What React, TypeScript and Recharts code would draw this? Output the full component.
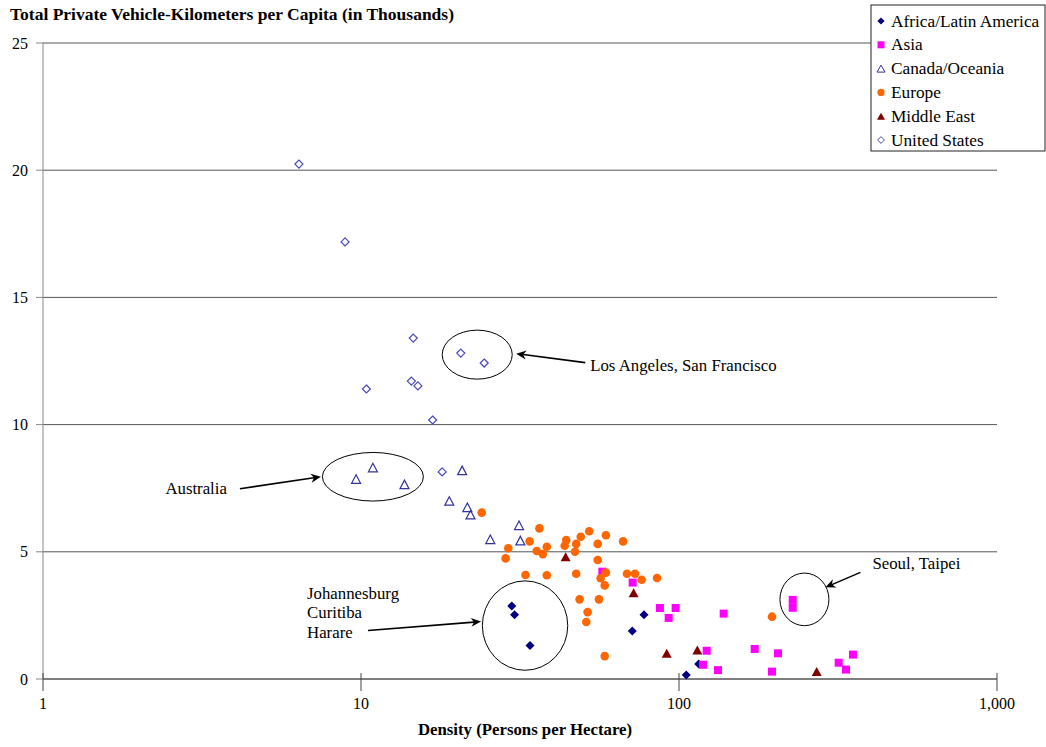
import React from 'react'
import { ScatterChart, Scatter, XAxis, YAxis, CartesianGrid, ReferenceDot } from 'recharts'

// values (x = persons per hectare, y = thousand km per capita)
const africaX = [29.8, 30.4, 34.0, 77.6, 71.3, 105.4, 115.3]
const africaY = [2.87, 2.53, 1.32, 2.53, 1.89, 0.16, 0.59]

const asiaX = [57.4, 71.5, 87.1, 97.6, 92.8, 138.2, 227.8, 227.8, 122.2, 119.0, 132.6, 173.0, 204.8, 196.1, 317.8, 335.0, 352.4]
const asiaY = [4.22, 3.79, 2.79, 2.79, 2.40, 2.57, 3.11, 2.80, 1.11, 0.56, 0.35, 1.18, 1.01, 0.29, 0.64, 0.37, 0.96]

const canadaX = [9.65, 10.9, 13.7, 20.8, 18.95, 21.6, 22.1, 31.4, 25.5, 31.7]
const canadaY = [7.86, 8.31, 7.65, 8.20, 7.0, 6.75, 6.46, 6.04, 5.49, 5.44]

const europeX = [23.97, 36.4, 33.9, 29.05, 28.5, 35.7, 37.3, 38.4, 44.2, 43.7, 47.5, 47.1, 49.1, 52.2, 58.9, 55.5, 66.7, 55.5, 32.9, 38.4, 47.5, 58.9, 56.7, 58.4, 68.6, 72.7, 76.3, 85.3, 48.7, 56.0, 51.6, 51.1, 58.4, 196.1]
const europeY = [6.54, 5.92, 5.41, 5.14, 4.74, 5.03, 4.91, 5.20, 5.46, 5.24, 5.31, 5.00, 5.59, 5.81, 5.65, 5.31, 5.41, 4.68, 4.09, 4.08, 4.14, 4.18, 3.96, 3.68, 4.14, 4.14, 3.90, 3.97, 3.13, 3.13, 2.63, 2.24, 0.90, 2.45]

const middleEastX = [44.0, 72.0, 91.5, 114.2, 271]
const middleEastY = [4.81, 3.39, 1.01, 1.14, 0.29]

const usX = [6.38, 8.91, 14.6, 20.6, 24.4, 10.4, 14.4, 15.1, 16.8, 18.0]
const usY = [20.24, 17.18, 13.4, 12.81, 12.42, 11.40, 11.71, 11.52, 10.18, 8.14]

const xTicks = [1, 10, 100, 1000]
const yTicks = [0, 5, 10, 15, 20, 25]

const toPoints = (xs: number[], ys: number[]) => xs.map((x, i) => ({ x, y: ys[i] }))

const FONT = "'Liberation Serif', 'DejaVu Serif', serif"

// marker shapes
const diamond = (cx: number, cy: number, r: number) =>
  `${cx},${cy - r} ${cx + r},${cy} ${cx},${cy + r} ${cx - r},${cy}`
const triangle = (cx: number, cy: number, w: number, h: number) =>
  `${cx},${cy - h / 2} ${cx + w / 2},${cy + h / 2} ${cx - w / 2},${cy + h / 2}`

const AfricaShape = (p: any) => <polygon points={diamond(p.cx, p.cy, 4.5)} fill="#000080" />
const AsiaShape = (p: any) => <rect x={p.cx - 4} y={p.cy - 4} width={8} height={8} fill="#ff00ff" />
const CanadaShape = (p: any) => <polygon points={triangle(p.cx, p.cy, 9, 8.5)} fill="none" stroke="#333399" strokeWidth={1.2} />
const EuropeShape = (p: any) => <circle cx={p.cx} cy={p.cy} r={4.3} fill="#ff6600" />
const MiddleEastShape = (p: any) => <polygon points={triangle(p.cx, p.cy, 10, 9)} fill="#800000" />
const UsShape = (p: any) => <polygon points={diamond(p.cx, p.cy, 4)} fill="none" stroke="#4848b4" strokeWidth={1.2} />

const legendItems = [
  { name: 'Africa/Latin America', icon: (cx: number, cy: number) => <polygon points={diamond(cx, cy, 3.6)} fill="#000080" /> },
  { name: 'Asia', icon: (cx: number, cy: number) => <rect x={cx - 3.5} y={cy - 3.5} width={7} height={7} fill="#ff00ff" /> },
  { name: 'Canada/Oceania', icon: (cx: number, cy: number) => <polygon points={triangle(cx, cy, 8, 7)} fill="none" stroke="#333399" strokeWidth={1} /> },
  { name: 'Europe', icon: (cx: number, cy: number) => <circle cx={cx} cy={cy} r={3.6} fill="#ff6600" /> },
  { name: 'Middle East', icon: (cx: number, cy: number) => <polygon points={triangle(cx, cy, 8, 7)} fill="#800000" /> },
  { name: 'United States', icon: (cx: number, cy: number) => <polygon points={diamond(cx, cy, 3.4)} fill="none" stroke="#4848b4" strokeWidth={1} /> },
]

const Arrow = ({ x1, y1, x2, y2 }: { x1: number; y1: number; x2: number; y2: number }) => {
  const a = Math.atan2(y2 - y1, x2 - x1)
  const len = 10
  const w = 4.5
  const bx = x2 - len * Math.cos(a)
  const by = y2 - len * Math.sin(a)
  const mx = x2 - len * 0.7 * Math.cos(a)
  const my = y2 - len * 0.7 * Math.sin(a)
  const p1 = `${bx + w * Math.sin(a)},${by - w * Math.cos(a)}`
  const p2 = `${bx - w * Math.sin(a)},${by + w * Math.cos(a)}`
  return (
    <g>
      <line x1={x1} y1={y1} x2={mx} y2={my} stroke="#000" strokeWidth={1.6} />
      <polygon points={`${x2},${y2} ${p1} ${mx},${my} ${p2}`} fill="#000" />
    </g>
  )
}

// callouts: ellipse centred on a data position, arrow and text offset in pixels
const callouts = [
  { x: 23.2, y: 12.75, rx: 35, ry: 24.5, arrow: [108, 8, 39, -1], lines: ['Los Angeles, San Francisco'], tx: 113, ty: 16, anchor: 'start' },
  { x: 10.9, y: 7.95, rx: 50.5, ry: 24.3, arrow: [-133, 12, -52, 0], lines: ['Australia'], tx: -146, ty: 17, anchor: 'end' },
  { x: 32.8, y: 2.1, rx: 42.7, ry: 44.7, arrow: [-157, 5, -44, -4], lines: ['Johannesburg', 'Curitiba', 'Harare'], tx: -218, ty: -27, anchor: 'start' },
  { x: 248, y: 3.13, rx: 24.5, ry: 26.3, arrow: [56, -27, 21, -12], lines: ['Seoul, Taipei'], tx: 68, ty: -30, anchor: 'start' },
]

const XTick = (props: any) => {
  const { x, y, payload } = props
  return (
    <g>
      <line x1={x} x2={x} y1={y - 22} y2={y - 16} stroke="#444" />
      <text x={x} y={y + 14} textAnchor="middle" fontFamily={FONT} fontSize={16} fill="#000">
        {payload.value.toLocaleString('en-US')}
      </text>
    </g>
  )
}

export default function App() {
  return (
    <div style={{ position: 'absolute', left: 0, top: 0, width: 1046, height: 747, background: '#fff', fontFamily: FONT }}>
      <div style={{ position: 'absolute', left: 10, top: 4, fontSize: 17.5, fontWeight: 'bold', whiteSpace: 'nowrap' }}>
        Total Private Vehicle-Kilometers per Capita (in Thousands)
      </div>
      <div style={{ position: 'absolute', left: 0, width: 1050, top: 720, textAlign: 'center', fontSize: 16.8, fontWeight: 'bold' }}>
        Density (Persons per Hectare)
      </div>
      <ScatterChart width={1046} height={747} margin={{ top: 43, right: 49, bottom: 0, left: 0 }} style={{ position: 'absolute', left: 0, top: 0 }}>
        <CartesianGrid horizontal vertical={false} stroke="#555" />
        <XAxis
          type="number"
          dataKey="x"
          scale="log"
          domain={[1, 1000]}
          ticks={xTicks}
          allowDataOverflow
          height={68}
          axisLine={{ stroke: '#555' }}
          tickLine={{ stroke: '#444' }}
          tickSize={12}
          tickMargin={4}
          tick={<XTick />}
        />
        <YAxis
          type="number"
          dataKey="y"
          domain={[0, 25]}
          ticks={yTicks}
          width={43}
          axisLine={{ stroke: '#888' }}
          tickLine={{ stroke: '#888' }}
          tickSize={7}
          tickMargin={8}
          tick={{ fill: '#000', fontSize: 16, fontFamily: FONT }}
        />
        <Scatter name="Africa/Latin America" data={toPoints(africaX, africaY)} shape={AfricaShape} isAnimationActive={false} />
        <Scatter name="Asia" data={toPoints(asiaX, asiaY)} shape={AsiaShape} isAnimationActive={false} />
        <Scatter name="Canada/Oceania" data={toPoints(canadaX, canadaY)} shape={CanadaShape} isAnimationActive={false} />
        <Scatter name="Europe" data={toPoints(europeX, europeY)} shape={EuropeShape} isAnimationActive={false} />
        <Scatter name="Middle East" data={toPoints(middleEastX, middleEastY)} shape={MiddleEastShape} isAnimationActive={false} />
        <Scatter name="United States" data={toPoints(usX, usY)} shape={UsShape} isAnimationActive={false} />
        {callouts.map((c) => (
          <ReferenceDot
            key={c.lines[0]}
            x={c.x}
            y={c.y}
            ifOverflow="visible"
            shape={(p: any) => (
              <g>
                <ellipse cx={p.cx} cy={p.cy} rx={c.rx} ry={c.ry} fill="none" stroke="#000" strokeWidth={1} />
                <Arrow x1={p.cx + c.arrow[0]} y1={p.cy + c.arrow[1]} x2={p.cx + c.arrow[2]} y2={p.cy + c.arrow[3]} />
                <text x={p.cx + c.tx} y={p.cy + c.ty} textAnchor={c.anchor as any} fontFamily={FONT} fontSize={16.8} fill="#000">
                  {c.lines.map((l, i) => (
                    <tspan key={l} x={p.cx + c.tx} dy={i === 0 ? 0 : 19.5}>{l}</tspan>
                  ))}
                </text>
              </g>
            )}
          />
        ))}
      </ScatterChart>
      <svg width={176} height={148} style={{ position: 'absolute', left: 870, top: 4 }}>
        <rect x={1} y={1} width={174} height={146} fill="#fff" stroke="#222" strokeWidth={1} />
        {legendItems.map((it, i) => {
          const cy = 17 + i * 23.8
          return (
            <g key={it.name}>
              {it.icon(11, cy)}
              <text x={21} y={cy + 5.5} fontFamily={FONT} fontSize={17.3} fill="#000">{it.name}</text>
            </g>
          )
        })}
      </svg>
    </div>
  )
}
